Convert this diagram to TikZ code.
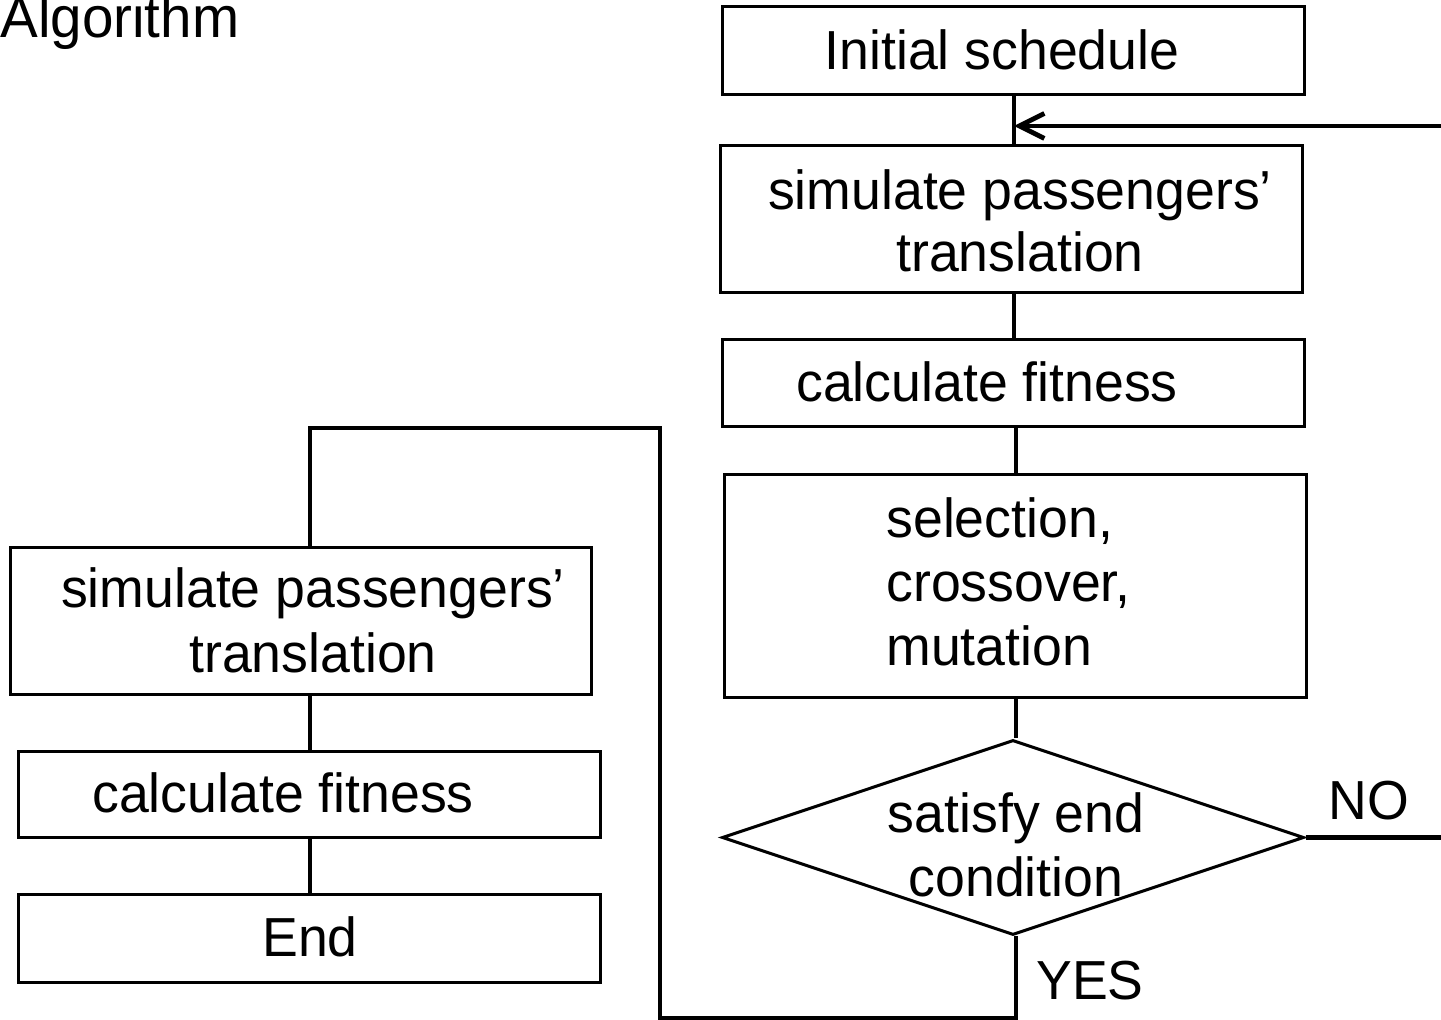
\documentclass[tikz,border=0pt]{standalone}
\usepackage{fontspec}
\setmainfont[FakeStretch=0.975]{Liberation Sans}
\usetikzlibrary{shapes.geometric,arrows.meta}
\begin{document}
\begin{tikzpicture}[x=0.5pt,y=-0.5pt,
  box/.style={draw,line width=1.5pt,rectangle,inner sep=0pt,minimum width=291pt},
  decide/.style={draw,line width=1.5pt,diamond,inner sep=0pt,minimum width=291pt,minimum height=97.5pt},
  conn/.style={line width=2.4pt},
  txt/.style={inner sep=0pt,anchor=base,font=\fontsize{27.5}{31.5}\selectfont},
  txtl/.style={txt,anchor=base west}]
\clip (0,0) rectangle (1441,1020);

% heading
\node[txtl,font=\fontsize{29}{32}\selectfont] (title) at (0,38) {Algorithm};

% main loop (right column)
\node[box,minimum height=44pt]   (init) at (1013,51) {};
\node[box,minimum height=73.5pt] (sim)  at (1011,219.5) {};
\node[box,minimum height=43.5pt] (fit)  at (1013,383.5) {};
\node[box,minimum height=111.5pt](gen)  at (1015,586.5) {};
\node[decide] (cond) at (1013,837.5) {};

\node[txt] (tinit) at (1002,70) {Initial schedule};
\node[txt] (tsima) at (1020,210) {simulate passengers'};
\node[txt] (tsimb) at (1020,272) {translation};
\node[txt] (tfit)  at (987,402) {calculate fitness};
\node[txtl] (tgena) at (886,538) {selection,};
\node[txtl] (tgenb) at (886,602) {crossover,};
\node[txtl] (tgenc) at (886,666) {mutation};
\node[txt] (tconda) at (1016,833) {satisfy end};
\node[txt] (tcondb) at (1016,897) {condition};
\node[txtl] (tno)  at (1328,820) {NO};
\node[txtl] (tyes) at (1036,1000) {YES};

% final evaluation (left column)
\node[box,minimum width=290.5pt,minimum height=73.5pt] (simf) at (300.5,621.5) {};
\node[box,minimum height=43pt]   (fitf) at (309,795) {};
\node[box,minimum height=43.5pt] (done) at (309,938.5) {};

\node[txt] (tsimfa) at (313,608) {simulate passengers'};
\node[txt] (tsimfb) at (313,673) {translation};
\node[txt] (tfitf)  at (283,813) {calculate fitness};
\node[txt] (tdone)  at (310,957) {End};

% connectors
\coordinate (back) at (1441,126);
\coordinate (noend) at (1441,837.5);
\coordinate (ybot) at (660,1018);
\coordinate (ytop) at (660,428);
\coordinate (ylft) at (310,428);

\draw[conn] (init.south -| 1014,0) -- (sim.north -| 1014,0);
\draw[conn,-{Straight Barb[length=12.5pt,width=12.5pt,line width=2.4pt]}] (back) -- (back -| 1014,0);
\draw[conn] (sim.south -| 1014,0) -- (fit.north -| 1014,0);
\draw[conn] (fit.south -| 1016,0) -- (gen.north -| 1016,0);
\draw[conn] (gen.south -| 1016,0) -- (cond.north -| 1016,0);
\draw[conn] (cond.east) -- (noend);
\draw[conn] (cond.south -| 1016,0) |- (ybot) -- (ytop) -- (ylft) -- (ylft |- simf.north);
\draw[conn] (simf.south -| 310,0) -- (fitf.north -| 310,0);
\draw[conn] (fitf.south -| 310,0) -- (done.north -| 310,0);
\end{tikzpicture}
\end{document}
